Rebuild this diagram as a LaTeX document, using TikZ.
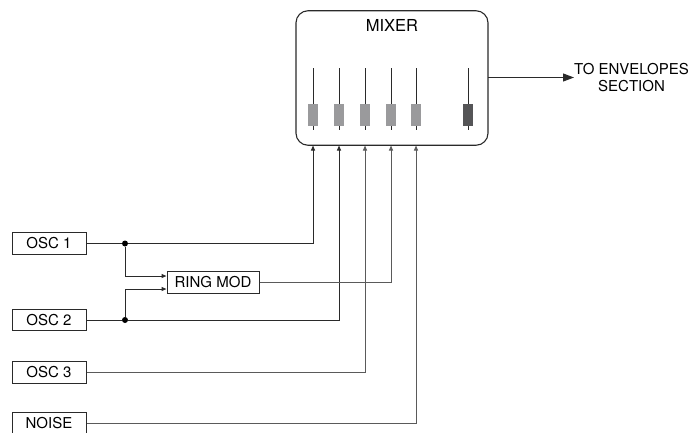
\documentclass[tikz,border=0pt]{standalone}
\usepackage{fontspec}
\setmainfont{TeX Gyre Heros}
\usetikzlibrary{arrows.meta}
\definecolor{lnd}{HTML}{2A2A2A}
\definecolor{lnl}{HTML}{5A5A5A}
\definecolor{capl}{HTML}{9A9A9C}
\definecolor{capd}{HTML}{555557}
\begin{document}
\begin{tikzpicture}[x=1pt,y=-1pt,
  srcbox/.style={draw=lnd,line width=1pt,minimum width=74pt,minimum height=21.5pt,inner sep=0pt,font=\fontsize{15}{16}\selectfont},
  wire/.style={draw=lnd,line width=1pt},
  wirel/.style={draw=lnl,line width=1pt},
  intip/.style={-{Triangle[length=5pt,width=4pt]}},
  fline/.style={draw=lnd,line width=1pt},
  fcap/.style={fill=capl,draw=none,minimum width=10.5pt,minimum height=22pt,inner sep=0pt},
  fcapd/.style={fill=capd,draw=none,minimum width=10.5pt,minimum height=22pt,inner sep=0pt},
  dot/.style={circle,fill=black,inner sep=0pt,minimum size=6pt}]
\useasboundingbox (0,0) rectangle (691,432);
% mixer
\node[draw=lnd,line width=1.1pt,rounded corners=12pt,minimum width=192pt,minimum height=134.5pt,inner sep=0pt] (mixer) at (392,78) {};
\node[font=\fontsize{16.5}{18}\selectfont] (mixlbl) at (392,25) {MIXER};
% faders
\foreach \n/\x in {1/313,2/339,3/365,4/391,5/416}{
  \draw[fline] (\x,68) -- (\x,130);
  \node[fcap] (cap\n) at (\x,115) {};
  \coordinate (in\n) at (\x,145.5);
}
\draw[fline] (468,68) -- (468,130);
\node[fcapd] (capm) at (468,115) {};
% output
\node[font=\fontsize{15}{17.5}\selectfont,align=center,anchor=west,inner sep=0pt] (env) at (574,77.5) {TO ENVELOPES\\SECTION};
\coordinate (mixout) at (488,77.5);
\draw[wire,-{Triangle[length=11pt,width=8pt]}] (mixout) -- (env.west);
% sources
\node[srcbox] (osc1) at (49,243.5) {OSC 1};
\node[srcbox] (osc2) at (49,320) {OSC 2};
\node[srcbox] (osc3) at (49,372.5) {OSC 3};
\node[srcbox] (noise) at (49,423.5) {NOISE};
\node[srcbox,minimum width=92pt] (ring) at (213,282.5) {RING MOD};
% junctions
\node[dot] (j1) at (125,243.5) {};
\node[dot] (j2) at (125,320) {};
\coordinate (r1) at (ring.west |- 0,276);
\coordinate (r2) at (ring.west |- 0,289);
% wires
\draw[wire,intip] (osc1.east) -- (j1) -| (in1);
\draw[wire,intip] (osc2.east) -- (j2) -| (in2);
\draw[wirel,intip] (osc3.east) -| (in3);
\draw[wirel,intip] (ring.east) -| (in4);
\draw[wirel,intip] (noise.east) -| (in5);
\draw[wire,intip] (j1) |- (r1);
\draw[wire,intip] (j2) |- (r2);
\end{tikzpicture}
\end{document}
